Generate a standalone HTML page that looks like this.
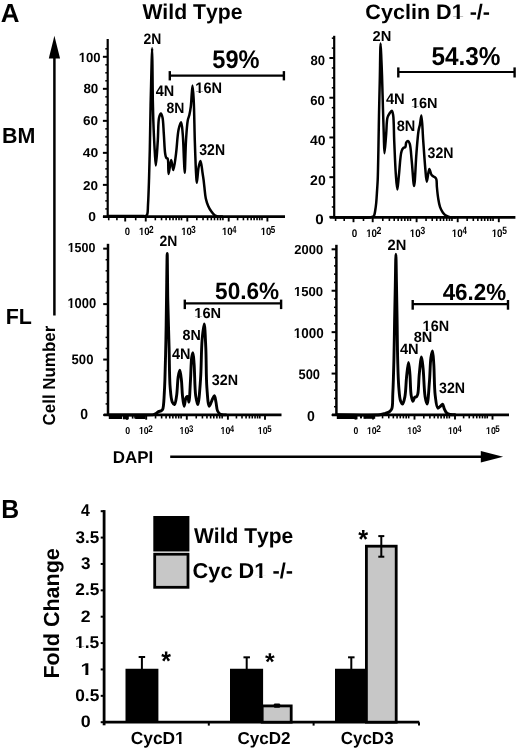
<!DOCTYPE html>
<html><head><meta charset="utf-8"><style>
html,body{margin:0;padding:0;background:#fff;}
body{width:520px;height:751px;overflow:hidden;}
svg{display:block;}
text{fill:#000;font-kerning:none;text-rendering:geometricPrecision;}
</style></head><body>
<svg width="520" height="751" viewBox="0 0 520 751" font-family='"Liberation Sans", sans-serif' font-weight="bold">
<rect width="520" height="751" fill="#fff"/>
<mask id="mall" maskUnits="userSpaceOnUse" x="0" y="0" width="520" height="751"><rect x="0" y="0" width="520" height="751" fill="#fff"/></mask>
<g mask="url(#mall)">
<line x1="107.70" y1="39.00" x2="107.70" y2="217.70" stroke="#000" stroke-width="2.2" stroke-linecap="butt"/>
<line x1="103.00" y1="216.70" x2="285.00" y2="216.70" stroke="#000" stroke-width="2.8" stroke-linecap="butt"/>
<line x1="102.90" y1="216.90" x2="107.70" y2="216.90" stroke="#000" stroke-width="2.0" stroke-linecap="butt"/>
<text x="88.35" y="220.80" font-size="12.94" textLength="7.72" lengthAdjust="spacingAndGlyphs">0</text>
<line x1="102.90" y1="184.88" x2="107.70" y2="184.88" stroke="#000" stroke-width="2.0" stroke-linecap="butt"/>
<text x="83.03" y="189.60" font-size="12.79" textLength="15.02" lengthAdjust="spacingAndGlyphs">20</text>
<line x1="102.90" y1="152.86" x2="107.70" y2="152.86" stroke="#000" stroke-width="2.0" stroke-linecap="butt"/>
<text x="82.79" y="157.30" font-size="12.79" textLength="15.48" lengthAdjust="spacingAndGlyphs">40</text>
<line x1="102.90" y1="120.84" x2="107.70" y2="120.84" stroke="#000" stroke-width="2.0" stroke-linecap="butt"/>
<text x="83.00" y="125.40" font-size="12.94" textLength="15.05" lengthAdjust="spacingAndGlyphs">60</text>
<line x1="102.90" y1="88.82" x2="107.70" y2="88.82" stroke="#000" stroke-width="2.0" stroke-linecap="butt"/>
<text x="83.38" y="92.70" font-size="13.37" textLength="14.87" lengthAdjust="spacingAndGlyphs">80</text>
<line x1="102.90" y1="56.80" x2="107.70" y2="56.80" stroke="#000" stroke-width="2.0" stroke-linecap="butt"/>
<mask id="m1" maskUnits="userSpaceOnUse" x="0" y="0" width="520" height="751"><rect x="0" y="0" width="520" height="751" fill="#fff"/><rect x="78.96" y="60.08" width="2.75" height="3.92" fill="#000"/><rect x="83.61" y="60.08" width="2.70" height="3.92" fill="#000"/></mask>
<text x="78.71" y="61.50" font-size="13.37" textLength="21.83" lengthAdjust="spacingAndGlyphs" mask="url(#m1)">100</text>
<line x1="105.30" y1="208.90" x2="107.70" y2="208.90" stroke="#000" stroke-width="1.5" stroke-linecap="butt"/>
<line x1="105.30" y1="200.89" x2="107.70" y2="200.89" stroke="#000" stroke-width="1.5" stroke-linecap="butt"/>
<line x1="105.30" y1="192.88" x2="107.70" y2="192.88" stroke="#000" stroke-width="1.5" stroke-linecap="butt"/>
<line x1="105.30" y1="176.88" x2="107.70" y2="176.88" stroke="#000" stroke-width="1.5" stroke-linecap="butt"/>
<line x1="105.30" y1="168.87" x2="107.70" y2="168.87" stroke="#000" stroke-width="1.5" stroke-linecap="butt"/>
<line x1="105.30" y1="160.87" x2="107.70" y2="160.87" stroke="#000" stroke-width="1.5" stroke-linecap="butt"/>
<line x1="105.30" y1="144.86" x2="107.70" y2="144.86" stroke="#000" stroke-width="1.5" stroke-linecap="butt"/>
<line x1="105.30" y1="136.85" x2="107.70" y2="136.85" stroke="#000" stroke-width="1.5" stroke-linecap="butt"/>
<line x1="105.30" y1="128.85" x2="107.70" y2="128.85" stroke="#000" stroke-width="1.5" stroke-linecap="butt"/>
<line x1="105.30" y1="112.84" x2="107.70" y2="112.84" stroke="#000" stroke-width="1.5" stroke-linecap="butt"/>
<line x1="105.30" y1="104.83" x2="107.70" y2="104.83" stroke="#000" stroke-width="1.5" stroke-linecap="butt"/>
<line x1="105.30" y1="96.83" x2="107.70" y2="96.83" stroke="#000" stroke-width="1.5" stroke-linecap="butt"/>
<line x1="105.30" y1="80.81" x2="107.70" y2="80.81" stroke="#000" stroke-width="1.5" stroke-linecap="butt"/>
<line x1="105.30" y1="72.81" x2="107.70" y2="72.81" stroke="#000" stroke-width="1.5" stroke-linecap="butt"/>
<line x1="105.30" y1="64.81" x2="107.70" y2="64.81" stroke="#000" stroke-width="1.5" stroke-linecap="butt"/>
<line x1="105.30" y1="48.80" x2="107.70" y2="48.80" stroke="#000" stroke-width="1.5" stroke-linecap="butt"/>
<line x1="125.20" y1="216.70" x2="125.20" y2="221.50" stroke="#000" stroke-width="1.9" stroke-linecap="butt"/>
<line x1="145.75" y1="216.70" x2="145.75" y2="221.50" stroke="#000" stroke-width="1.9" stroke-linecap="butt"/>
<line x1="187.30" y1="216.70" x2="187.30" y2="221.50" stroke="#000" stroke-width="1.9" stroke-linecap="butt"/>
<line x1="228.70" y1="216.70" x2="228.70" y2="221.50" stroke="#000" stroke-width="1.9" stroke-linecap="butt"/>
<line x1="267.40" y1="216.70" x2="267.40" y2="221.50" stroke="#000" stroke-width="1.9" stroke-linecap="butt"/>
<line x1="108.70" y1="216.70" x2="108.70" y2="220.30" stroke="#000" stroke-width="1.6" stroke-linecap="butt"/>
<line x1="116.90" y1="216.70" x2="116.90" y2="220.30" stroke="#000" stroke-width="1.6" stroke-linecap="butt"/>
<line x1="135.70" y1="216.70" x2="135.70" y2="220.30" stroke="#000" stroke-width="1.6" stroke-linecap="butt"/>
<line x1="155.31" y1="216.70" x2="155.31" y2="220.30" stroke="#000" stroke-width="1.6" stroke-linecap="butt"/>
<line x1="161.54" y1="216.70" x2="161.54" y2="220.30" stroke="#000" stroke-width="1.6" stroke-linecap="butt"/>
<line x1="166.11" y1="216.70" x2="166.11" y2="220.30" stroke="#000" stroke-width="1.6" stroke-linecap="butt"/>
<line x1="169.85" y1="216.70" x2="169.85" y2="220.30" stroke="#000" stroke-width="1.6" stroke-linecap="butt"/>
<line x1="173.05" y1="216.70" x2="173.05" y2="220.30" stroke="#000" stroke-width="1.6" stroke-linecap="butt"/>
<line x1="176.16" y1="216.70" x2="176.16" y2="220.30" stroke="#000" stroke-width="1.6" stroke-linecap="butt"/>
<line x1="178.99" y1="216.70" x2="178.99" y2="220.30" stroke="#000" stroke-width="1.6" stroke-linecap="butt"/>
<line x1="181.48" y1="216.70" x2="181.48" y2="220.30" stroke="#000" stroke-width="1.6" stroke-linecap="butt"/>
<line x1="196.82" y1="216.70" x2="196.82" y2="220.30" stroke="#000" stroke-width="1.6" stroke-linecap="butt"/>
<line x1="203.03" y1="216.70" x2="203.03" y2="220.30" stroke="#000" stroke-width="1.6" stroke-linecap="butt"/>
<line x1="207.59" y1="216.70" x2="207.59" y2="220.30" stroke="#000" stroke-width="1.6" stroke-linecap="butt"/>
<line x1="211.31" y1="216.70" x2="211.31" y2="220.30" stroke="#000" stroke-width="1.6" stroke-linecap="butt"/>
<line x1="214.50" y1="216.70" x2="214.50" y2="220.30" stroke="#000" stroke-width="1.6" stroke-linecap="butt"/>
<line x1="217.60" y1="216.70" x2="217.60" y2="220.30" stroke="#000" stroke-width="1.6" stroke-linecap="butt"/>
<line x1="220.42" y1="216.70" x2="220.42" y2="220.30" stroke="#000" stroke-width="1.6" stroke-linecap="butt"/>
<line x1="222.90" y1="216.70" x2="222.90" y2="220.30" stroke="#000" stroke-width="1.6" stroke-linecap="butt"/>
<line x1="237.60" y1="216.70" x2="237.60" y2="220.30" stroke="#000" stroke-width="1.6" stroke-linecap="butt"/>
<line x1="243.41" y1="216.70" x2="243.41" y2="220.30" stroke="#000" stroke-width="1.6" stroke-linecap="butt"/>
<line x1="247.66" y1="216.70" x2="247.66" y2="220.30" stroke="#000" stroke-width="1.6" stroke-linecap="butt"/>
<line x1="251.15" y1="216.70" x2="251.15" y2="220.30" stroke="#000" stroke-width="1.6" stroke-linecap="butt"/>
<line x1="254.13" y1="216.70" x2="254.13" y2="220.30" stroke="#000" stroke-width="1.6" stroke-linecap="butt"/>
<line x1="257.03" y1="216.70" x2="257.03" y2="220.30" stroke="#000" stroke-width="1.6" stroke-linecap="butt"/>
<line x1="259.66" y1="216.70" x2="259.66" y2="220.30" stroke="#000" stroke-width="1.6" stroke-linecap="butt"/>
<line x1="261.98" y1="216.70" x2="261.98" y2="220.30" stroke="#000" stroke-width="1.6" stroke-linecap="butt"/>
<text x="124.83" y="235.00" font-size="10.68" textLength="5.26" lengthAdjust="spacingAndGlyphs">0</text>
<mask id="m2" maskUnits="userSpaceOnUse" x="0" y="0" width="520" height="751"><rect x="0" y="0" width="520" height="751" fill="#fff"/><rect x="139.13" y="233.86" width="2.01" height="3.64" fill="#000"/><rect x="142.53" y="233.86" width="1.98" height="3.64" fill="#000"/></mask>
<text x="138.95" y="235.00" font-size="10.68" textLength="10.65" lengthAdjust="spacingAndGlyphs" mask="url(#m2)">10</text>
<text x="148.91" y="232.70" font-size="10.32" textLength="4.62" lengthAdjust="spacingAndGlyphs">2</text>
<mask id="m3" maskUnits="userSpaceOnUse" x="0" y="0" width="520" height="751"><rect x="0" y="0" width="520" height="751" fill="#fff"/><rect x="181.38" y="233.86" width="2.01" height="3.64" fill="#000"/><rect x="184.78" y="233.86" width="1.98" height="3.64" fill="#000"/></mask>
<text x="181.20" y="235.00" font-size="10.68" textLength="10.65" lengthAdjust="spacingAndGlyphs" mask="url(#m3)">10</text>
<text x="191.27" y="232.70" font-size="10.32" textLength="4.48" lengthAdjust="spacingAndGlyphs">3</text>
<mask id="m4" maskUnits="userSpaceOnUse" x="0" y="0" width="520" height="751"><rect x="0" y="0" width="520" height="751" fill="#fff"/><rect x="222.23" y="233.86" width="2.01" height="3.64" fill="#000"/><rect x="225.63" y="233.86" width="1.98" height="3.64" fill="#000"/></mask>
<text x="222.05" y="235.00" font-size="10.68" textLength="10.65" lengthAdjust="spacingAndGlyphs" mask="url(#m4)">10</text>
<text x="232.19" y="232.70" font-size="10.32" textLength="4.15" lengthAdjust="spacingAndGlyphs">4</text>
<mask id="m5" maskUnits="userSpaceOnUse" x="0" y="0" width="520" height="751"><rect x="0" y="0" width="520" height="751" fill="#fff"/><rect x="260.83" y="233.86" width="2.01" height="3.64" fill="#000"/><rect x="264.23" y="233.86" width="1.98" height="3.64" fill="#000"/></mask>
<text x="260.65" y="235.00" font-size="10.68" textLength="10.65" lengthAdjust="spacingAndGlyphs" mask="url(#m5)">10</text>
<text x="270.65" y="232.70" font-size="10.32" textLength="4.47" lengthAdjust="spacingAndGlyphs">5</text>
<path d="M108.00,216.00 C119.33,216.00 136.32,216.00 142.00,216.00 C143.90,216.00 144.90,216.39 145.80,216.00 C146.46,215.71 146.84,215.31 147.20,214.50 C147.97,212.76 147.76,208.92 148.00,205.00 C148.39,198.65 148.71,188.71 149.00,180.00 C149.32,170.46 149.56,161.01 149.80,150.00 C150.10,136.52 150.31,118.84 150.60,105.00 C150.85,93.15 151.13,82.09 151.40,72.00 C151.63,63.45 151.92,48.30 152.10,48.30 C152.28,48.30 152.39,63.77 152.50,72.00 C152.62,80.94 152.65,91.45 152.80,100.00 C152.93,107.23 153.10,113.81 153.30,120.00 C153.47,125.36 153.66,129.84 153.90,135.00 C154.16,140.49 154.44,146.66 154.80,152.00 C155.12,156.76 155.49,165.50 155.90,165.50 C156.46,165.50 157.26,148.58 157.80,140.40 C158.32,132.59 158.01,121.94 159.10,117.50 C159.58,115.56 160.33,113.49 160.90,113.50 C161.46,113.51 162.07,115.68 162.50,117.50 C163.33,121.03 163.37,127.93 163.80,133.60 C164.28,139.95 164.50,149.64 165.20,153.80 C165.52,155.71 165.69,157.18 166.30,157.90 C166.65,158.32 167.24,157.98 167.60,158.50 C168.77,160.21 167.98,173.96 168.60,174.00 C169.20,174.04 170.36,159.91 171.20,159.90 C171.92,159.89 172.59,170.01 173.30,170.00 C174.19,169.98 175.18,159.75 176.00,153.80 C176.99,146.55 177.35,135.30 178.60,129.60 C179.31,126.37 180.44,122.14 181.10,122.20 C181.90,122.27 182.27,128.98 182.70,133.60 C183.37,140.68 183.62,153.38 184.00,160.60 C184.26,165.43 184.45,172.70 184.70,172.70 C185.10,172.70 185.39,149.90 186.00,140.40 C186.49,132.87 186.93,124.76 187.80,120.20 C188.26,117.80 188.93,116.80 189.40,114.80 C189.96,112.39 190.38,110.05 190.80,106.70 C191.48,101.33 191.98,85.60 192.50,85.60 C192.93,85.60 193.37,93.98 193.70,100.00 C194.26,110.06 194.38,127.55 194.80,140.40 C195.19,152.12 195.65,166.42 196.10,174.00 C196.33,177.88 196.47,182.79 196.80,182.80 C197.23,182.81 197.81,171.32 198.60,167.30 C199.12,164.68 199.88,160.89 200.40,160.90 C200.86,160.91 201.25,164.14 201.60,166.00 C202.01,168.21 202.26,170.92 202.60,173.30 C202.93,175.58 203.30,177.72 203.60,180.00 C203.91,182.35 204.09,184.54 204.40,187.20 C204.79,190.52 205.07,195.07 205.80,198.40 C206.41,201.18 207.20,203.63 208.20,205.90 C209.10,207.95 210.23,209.88 211.40,211.50 C212.42,212.92 213.49,214.38 214.70,215.20 C215.72,215.89 216.83,216.16 218.00,216.40 C219.25,216.65 220.67,216.53 222.00,216.60" fill="none" stroke="#000" stroke-width="2.5" stroke-linejoin="round" stroke-linecap="round"/>
<text x="143.42" y="43.70" font-size="15.12" textLength="17.82" lengthAdjust="spacingAndGlyphs">2N</text>
<text x="155.78" y="95.60" font-size="15.12" textLength="18.49" lengthAdjust="spacingAndGlyphs">4N</text>
<text x="166.46" y="112.80" font-size="14.97" textLength="17.89" lengthAdjust="spacingAndGlyphs">8N</text>
<mask id="m6" maskUnits="userSpaceOnUse" x="0" y="0" width="520" height="751"><rect x="0" y="0" width="520" height="751" fill="#fff"/><rect x="195.59" y="91.69" width="3.07" height="4.11" fill="#000"/><rect x="200.77" y="91.69" width="3.02" height="4.11" fill="#000"/></mask>
<text x="195.30" y="93.30" font-size="15.12" textLength="26.78" lengthAdjust="spacingAndGlyphs" mask="url(#m6)">16N</text>
<text x="199.28" y="154.70" font-size="15.70" textLength="25.77" lengthAdjust="spacingAndGlyphs">32N</text>
<text x="212.27" y="68.30" font-size="25.58" textLength="47.25" lengthAdjust="spacingAndGlyphs">59%</text>
<line x1="169.80" y1="75.70" x2="283.90" y2="75.70" stroke="#000" stroke-width="2.2" stroke-linecap="butt"/>
<line x1="169.80" y1="71.10" x2="169.80" y2="80.40" stroke="#000" stroke-width="2.4" stroke-linecap="butt"/>
<line x1="283.90" y1="71.10" x2="283.90" y2="80.40" stroke="#000" stroke-width="2.4" stroke-linecap="butt"/>
<line x1="334.20" y1="35.80" x2="334.20" y2="218.40" stroke="#000" stroke-width="2.2" stroke-linecap="butt"/>
<line x1="329.80" y1="217.40" x2="515.40" y2="217.40" stroke="#000" stroke-width="2.7" stroke-linecap="butt"/>
<line x1="329.40" y1="216.90" x2="334.20" y2="216.90" stroke="#000" stroke-width="2.0" stroke-linecap="butt"/>
<text x="315.30" y="223.70" font-size="14.10" textLength="8.42" lengthAdjust="spacingAndGlyphs">0</text>
<line x1="329.40" y1="177.18" x2="334.20" y2="177.18" stroke="#000" stroke-width="2.0" stroke-linecap="butt"/>
<text x="310.12" y="184.70" font-size="13.95" textLength="15.56" lengthAdjust="spacingAndGlyphs">20</text>
<line x1="329.40" y1="137.46" x2="334.20" y2="137.46" stroke="#000" stroke-width="2.0" stroke-linecap="butt"/>
<text x="309.99" y="144.55" font-size="13.74" textLength="15.59" lengthAdjust="spacingAndGlyphs">40</text>
<line x1="329.40" y1="97.74" x2="334.20" y2="97.74" stroke="#000" stroke-width="2.0" stroke-linecap="butt"/>
<text x="310.32" y="105.00" font-size="13.37" textLength="14.62" lengthAdjust="spacingAndGlyphs">60</text>
<line x1="329.40" y1="58.02" x2="334.20" y2="58.02" stroke="#000" stroke-width="2.0" stroke-linecap="butt"/>
<text x="310.38" y="65.10" font-size="13.52" textLength="14.55" lengthAdjust="spacingAndGlyphs">80</text>
<line x1="331.80" y1="206.97" x2="334.20" y2="206.97" stroke="#000" stroke-width="1.5" stroke-linecap="butt"/>
<line x1="331.80" y1="197.04" x2="334.20" y2="197.04" stroke="#000" stroke-width="1.5" stroke-linecap="butt"/>
<line x1="331.80" y1="187.11" x2="334.20" y2="187.11" stroke="#000" stroke-width="1.5" stroke-linecap="butt"/>
<line x1="331.80" y1="167.25" x2="334.20" y2="167.25" stroke="#000" stroke-width="1.5" stroke-linecap="butt"/>
<line x1="331.80" y1="157.32" x2="334.20" y2="157.32" stroke="#000" stroke-width="1.5" stroke-linecap="butt"/>
<line x1="331.80" y1="147.39" x2="334.20" y2="147.39" stroke="#000" stroke-width="1.5" stroke-linecap="butt"/>
<line x1="331.80" y1="127.53" x2="334.20" y2="127.53" stroke="#000" stroke-width="1.5" stroke-linecap="butt"/>
<line x1="331.80" y1="117.60" x2="334.20" y2="117.60" stroke="#000" stroke-width="1.5" stroke-linecap="butt"/>
<line x1="331.80" y1="107.67" x2="334.20" y2="107.67" stroke="#000" stroke-width="1.5" stroke-linecap="butt"/>
<line x1="331.80" y1="87.81" x2="334.20" y2="87.81" stroke="#000" stroke-width="1.5" stroke-linecap="butt"/>
<line x1="331.80" y1="77.88" x2="334.20" y2="77.88" stroke="#000" stroke-width="1.5" stroke-linecap="butt"/>
<line x1="331.80" y1="67.95" x2="334.20" y2="67.95" stroke="#000" stroke-width="1.5" stroke-linecap="butt"/>
<line x1="331.80" y1="48.09" x2="334.20" y2="48.09" stroke="#000" stroke-width="1.5" stroke-linecap="butt"/>
<line x1="331.80" y1="38.16" x2="334.20" y2="38.16" stroke="#000" stroke-width="1.5" stroke-linecap="butt"/>
<line x1="353.50" y1="217.40" x2="353.50" y2="222.20" stroke="#000" stroke-width="1.9" stroke-linecap="butt"/>
<line x1="372.70" y1="217.40" x2="372.70" y2="222.20" stroke="#000" stroke-width="1.9" stroke-linecap="butt"/>
<line x1="416.60" y1="217.40" x2="416.60" y2="222.20" stroke="#000" stroke-width="1.9" stroke-linecap="butt"/>
<line x1="457.70" y1="217.40" x2="457.70" y2="222.20" stroke="#000" stroke-width="1.9" stroke-linecap="butt"/>
<line x1="498.80" y1="217.40" x2="498.80" y2="222.20" stroke="#000" stroke-width="1.9" stroke-linecap="butt"/>
<line x1="335.60" y1="217.40" x2="335.60" y2="221.00" stroke="#000" stroke-width="1.6" stroke-linecap="butt"/>
<line x1="344.20" y1="217.40" x2="344.20" y2="221.00" stroke="#000" stroke-width="1.6" stroke-linecap="butt"/>
<line x1="363.50" y1="217.40" x2="363.50" y2="221.00" stroke="#000" stroke-width="1.6" stroke-linecap="butt"/>
<line x1="382.80" y1="217.40" x2="382.80" y2="221.00" stroke="#000" stroke-width="1.6" stroke-linecap="butt"/>
<line x1="389.38" y1="217.40" x2="389.38" y2="221.00" stroke="#000" stroke-width="1.6" stroke-linecap="butt"/>
<line x1="394.21" y1="217.40" x2="394.21" y2="221.00" stroke="#000" stroke-width="1.6" stroke-linecap="butt"/>
<line x1="398.16" y1="217.40" x2="398.16" y2="221.00" stroke="#000" stroke-width="1.6" stroke-linecap="butt"/>
<line x1="401.54" y1="217.40" x2="401.54" y2="221.00" stroke="#000" stroke-width="1.6" stroke-linecap="butt"/>
<line x1="404.83" y1="217.40" x2="404.83" y2="221.00" stroke="#000" stroke-width="1.6" stroke-linecap="butt"/>
<line x1="407.82" y1="217.40" x2="407.82" y2="221.00" stroke="#000" stroke-width="1.6" stroke-linecap="butt"/>
<line x1="410.45" y1="217.40" x2="410.45" y2="221.00" stroke="#000" stroke-width="1.6" stroke-linecap="butt"/>
<line x1="426.05" y1="217.40" x2="426.05" y2="221.00" stroke="#000" stroke-width="1.6" stroke-linecap="butt"/>
<line x1="432.22" y1="217.40" x2="432.22" y2="221.00" stroke="#000" stroke-width="1.6" stroke-linecap="butt"/>
<line x1="436.74" y1="217.40" x2="436.74" y2="221.00" stroke="#000" stroke-width="1.6" stroke-linecap="butt"/>
<line x1="440.44" y1="217.40" x2="440.44" y2="221.00" stroke="#000" stroke-width="1.6" stroke-linecap="butt"/>
<line x1="443.60" y1="217.40" x2="443.60" y2="221.00" stroke="#000" stroke-width="1.6" stroke-linecap="butt"/>
<line x1="446.69" y1="217.40" x2="446.69" y2="221.00" stroke="#000" stroke-width="1.6" stroke-linecap="butt"/>
<line x1="449.48" y1="217.40" x2="449.48" y2="221.00" stroke="#000" stroke-width="1.6" stroke-linecap="butt"/>
<line x1="451.95" y1="217.40" x2="451.95" y2="221.00" stroke="#000" stroke-width="1.6" stroke-linecap="butt"/>
<line x1="467.15" y1="217.40" x2="467.15" y2="221.00" stroke="#000" stroke-width="1.6" stroke-linecap="butt"/>
<line x1="473.32" y1="217.40" x2="473.32" y2="221.00" stroke="#000" stroke-width="1.6" stroke-linecap="butt"/>
<line x1="477.84" y1="217.40" x2="477.84" y2="221.00" stroke="#000" stroke-width="1.6" stroke-linecap="butt"/>
<line x1="481.54" y1="217.40" x2="481.54" y2="221.00" stroke="#000" stroke-width="1.6" stroke-linecap="butt"/>
<line x1="484.70" y1="217.40" x2="484.70" y2="221.00" stroke="#000" stroke-width="1.6" stroke-linecap="butt"/>
<line x1="487.79" y1="217.40" x2="487.79" y2="221.00" stroke="#000" stroke-width="1.6" stroke-linecap="butt"/>
<line x1="490.58" y1="217.40" x2="490.58" y2="221.00" stroke="#000" stroke-width="1.6" stroke-linecap="butt"/>
<line x1="493.05" y1="217.40" x2="493.05" y2="221.00" stroke="#000" stroke-width="1.6" stroke-linecap="butt"/>
<text x="351.81" y="236.70" font-size="11.05" textLength="5.50" lengthAdjust="spacingAndGlyphs">0</text>
<mask id="m7" maskUnits="userSpaceOnUse" x="0" y="0" width="520" height="751"><rect x="0" y="0" width="520" height="751" fill="#fff"/><rect x="366.32" y="235.52" width="2.05" height="3.68" fill="#000"/><rect x="369.79" y="235.52" width="2.02" height="3.68" fill="#000"/></mask>
<text x="366.13" y="236.70" font-size="11.05" textLength="10.87" lengthAdjust="spacingAndGlyphs" mask="url(#m7)">10</text>
<text x="376.60" y="234.40" font-size="10.47" textLength="4.85" lengthAdjust="spacingAndGlyphs">2</text>
<mask id="m8" maskUnits="userSpaceOnUse" x="0" y="0" width="520" height="751"><rect x="0" y="0" width="520" height="751" fill="#fff"/><rect x="410.02" y="235.52" width="2.05" height="3.68" fill="#000"/><rect x="413.49" y="235.52" width="2.02" height="3.68" fill="#000"/></mask>
<text x="409.83" y="236.70" font-size="11.05" textLength="10.87" lengthAdjust="spacingAndGlyphs" mask="url(#m8)">10</text>
<text x="420.41" y="234.40" font-size="10.47" textLength="4.70" lengthAdjust="spacingAndGlyphs">3</text>
<mask id="m9" maskUnits="userSpaceOnUse" x="0" y="0" width="520" height="751"><rect x="0" y="0" width="520" height="751" fill="#fff"/><rect x="452.02" y="235.52" width="2.05" height="3.68" fill="#000"/><rect x="455.49" y="235.52" width="2.02" height="3.68" fill="#000"/></mask>
<text x="451.83" y="236.70" font-size="11.05" textLength="10.87" lengthAdjust="spacingAndGlyphs" mask="url(#m9)">10</text>
<text x="462.48" y="234.40" font-size="10.47" textLength="4.36" lengthAdjust="spacingAndGlyphs">4</text>
<mask id="m10" maskUnits="userSpaceOnUse" x="0" y="0" width="520" height="751"><rect x="0" y="0" width="520" height="751" fill="#fff"/><rect x="491.82" y="235.52" width="2.05" height="3.68" fill="#000"/><rect x="495.29" y="235.52" width="2.02" height="3.68" fill="#000"/></mask>
<text x="491.63" y="236.70" font-size="11.05" textLength="10.87" lengthAdjust="spacingAndGlyphs" mask="url(#m10)">10</text>
<text x="502.14" y="234.40" font-size="10.47" textLength="4.69" lengthAdjust="spacingAndGlyphs">5</text>
<path d="M336.00,217.40 C347.33,217.40 364.70,218.05 370.00,217.40 C371.65,217.20 372.47,217.11 373.20,216.60 C373.76,216.21 373.99,215.72 374.30,215.00 C374.79,213.83 375.00,211.81 375.30,210.00 C375.65,207.87 375.93,205.70 376.20,203.00 C376.56,199.34 376.84,194.05 377.10,190.00 C377.33,186.45 377.52,184.23 377.70,180.00 C378.00,172.68 378.19,160.39 378.40,150.00 C378.63,138.78 378.77,126.67 379.00,115.00 C379.23,103.33 379.54,91.78 379.80,80.00 C380.07,67.99 380.26,43.60 380.60,43.60 C380.83,43.60 381.16,54.65 381.40,60.00 C381.63,65.11 381.79,68.96 382.00,75.00 C382.32,84.23 382.68,99.31 383.00,110.00 C383.27,119.03 383.53,127.33 383.80,135.00 C384.03,141.55 384.11,153.19 384.50,153.20 C384.90,153.21 385.68,139.81 386.20,133.60 C386.67,127.97 386.52,121.01 387.50,117.50 C388.02,115.65 388.73,114.66 389.50,113.50 C390.19,112.46 391.21,110.68 391.80,110.80 C392.44,110.93 392.75,112.85 393.10,114.80 C393.97,119.60 393.79,131.29 394.20,140.40 C394.67,150.84 395.15,164.95 395.80,174.00 C396.24,180.16 396.77,189.50 397.30,189.50 C397.81,189.50 398.30,180.74 398.90,175.40 C399.69,168.40 400.14,155.38 401.60,151.10 C402.18,149.40 402.84,148.45 403.60,147.80 C404.12,147.35 404.87,147.61 405.30,147.10 C405.99,146.27 405.67,143.44 406.30,142.40 C406.73,141.69 407.48,140.92 408.00,141.00 C408.63,141.10 409.22,142.33 409.70,143.70 C410.81,146.85 411.04,154.39 411.70,160.60 C412.51,168.22 413.36,186.11 414.10,186.10 C414.94,186.09 415.60,163.63 416.40,153.80 C417.07,145.54 417.67,136.35 418.50,131.00 C418.96,128.05 419.54,126.61 420.00,124.20 C420.52,121.49 420.97,115.48 421.40,115.50 C422.12,115.53 422.58,131.94 423.20,140.40 C423.84,149.19 424.50,159.73 425.20,167.30 C425.71,172.85 426.09,181.67 426.80,181.70 C427.47,181.73 428.32,169.18 429.30,169.10 C429.99,169.04 430.66,173.87 431.60,175.10 C432.17,175.85 432.87,176.07 433.50,176.50 C434.10,176.90 434.82,177.11 435.30,177.60 C435.79,178.10 436.13,178.61 436.40,179.50 C436.90,181.14 436.65,184.24 436.90,187.00 C437.21,190.41 437.63,194.90 438.20,198.40 C438.70,201.43 439.13,204.33 440.00,206.80 C440.74,208.91 441.69,210.86 442.80,212.40 C443.74,213.71 444.78,214.81 446.00,215.60 C447.19,216.36 448.57,216.80 450.00,217.10 C451.55,217.43 453.33,217.30 455.00,217.40" fill="none" stroke="#000" stroke-width="2.5" stroke-linejoin="round" stroke-linecap="round"/>
<text x="372.49" y="41.10" font-size="14.39" textLength="18.80" lengthAdjust="spacingAndGlyphs">2N</text>
<text x="385.88" y="103.75" font-size="15.33" textLength="18.81" lengthAdjust="spacingAndGlyphs">4N</text>
<text x="396.64" y="131.30" font-size="15.12" textLength="18.65" lengthAdjust="spacingAndGlyphs">8N</text>
<mask id="m11" maskUnits="userSpaceOnUse" x="0" y="0" width="520" height="751"><rect x="0" y="0" width="520" height="751" fill="#fff"/><rect x="411.29" y="106.64" width="3.04" height="4.06" fill="#000"/><rect x="416.43" y="106.64" width="2.99" height="4.06" fill="#000"/></mask>
<text x="411.01" y="108.20" font-size="14.68" textLength="26.57" lengthAdjust="spacingAndGlyphs" mask="url(#m11)">16N</text>
<text x="427.57" y="158.10" font-size="15.26" textLength="25.98" lengthAdjust="spacingAndGlyphs">32N</text>
<text x="431.45" y="64.60" font-size="25.87" textLength="69.09" lengthAdjust="spacingAndGlyphs">54.3%</text>
<line x1="398.30" y1="72.00" x2="514.60" y2="72.00" stroke="#000" stroke-width="2.2" stroke-linecap="butt"/>
<line x1="398.30" y1="67.40" x2="398.30" y2="77.50" stroke="#000" stroke-width="2.4" stroke-linecap="butt"/>
<line x1="514.60" y1="67.40" x2="514.60" y2="77.50" stroke="#000" stroke-width="2.4" stroke-linecap="butt"/>
<line x1="108.00" y1="243.80" x2="108.00" y2="415.90" stroke="#000" stroke-width="2.5" stroke-linecap="butt"/>
<line x1="103.80" y1="414.90" x2="281.50" y2="414.90" stroke="#000" stroke-width="2.8" stroke-linecap="butt"/>
<line x1="103.20" y1="415.00" x2="108.00" y2="415.00" stroke="#000" stroke-width="2.0" stroke-linecap="butt"/>
<text x="80.30" y="419.10" font-size="14.83" textLength="7.78" lengthAdjust="spacingAndGlyphs">0</text>
<line x1="103.20" y1="359.55" x2="108.00" y2="359.55" stroke="#000" stroke-width="2.0" stroke-linecap="butt"/>
<text x="71.60" y="363.70" font-size="13.74" textLength="21.84" lengthAdjust="spacingAndGlyphs">500</text>
<line x1="103.20" y1="304.10" x2="108.00" y2="304.10" stroke="#000" stroke-width="2.0" stroke-linecap="butt"/>
<mask id="m12" maskUnits="userSpaceOnUse" x="0" y="0" width="520" height="751"><rect x="0" y="0" width="520" height="751" fill="#fff"/><rect x="67.67" y="306.18" width="2.72" height="4.02" fill="#000"/><rect x="72.27" y="306.18" width="2.68" height="4.02" fill="#000"/></mask>
<text x="67.41" y="307.70" font-size="14.24" textLength="28.82" lengthAdjust="spacingAndGlyphs" mask="url(#m12)">1000</text>
<line x1="103.20" y1="248.65" x2="108.00" y2="248.65" stroke="#000" stroke-width="2.0" stroke-linecap="butt"/>
<mask id="m13" maskUnits="userSpaceOnUse" x="0" y="0" width="520" height="751"><rect x="0" y="0" width="520" height="751" fill="#fff"/><rect x="67.89" y="250.41" width="2.62" height="3.89" fill="#000"/><rect x="72.32" y="250.41" width="2.58" height="3.89" fill="#000"/></mask>
<text x="67.65" y="251.80" font-size="13.08" textLength="27.77" lengthAdjust="spacingAndGlyphs" mask="url(#m13)">1500</text>
<line x1="105.60" y1="403.91" x2="108.00" y2="403.91" stroke="#000" stroke-width="1.5" stroke-linecap="butt"/>
<line x1="105.60" y1="392.82" x2="108.00" y2="392.82" stroke="#000" stroke-width="1.5" stroke-linecap="butt"/>
<line x1="105.60" y1="381.73" x2="108.00" y2="381.73" stroke="#000" stroke-width="1.5" stroke-linecap="butt"/>
<line x1="105.60" y1="370.64" x2="108.00" y2="370.64" stroke="#000" stroke-width="1.5" stroke-linecap="butt"/>
<line x1="105.60" y1="348.46" x2="108.00" y2="348.46" stroke="#000" stroke-width="1.5" stroke-linecap="butt"/>
<line x1="105.60" y1="337.37" x2="108.00" y2="337.37" stroke="#000" stroke-width="1.5" stroke-linecap="butt"/>
<line x1="105.60" y1="326.28" x2="108.00" y2="326.28" stroke="#000" stroke-width="1.5" stroke-linecap="butt"/>
<line x1="105.60" y1="315.19" x2="108.00" y2="315.19" stroke="#000" stroke-width="1.5" stroke-linecap="butt"/>
<line x1="105.60" y1="293.01" x2="108.00" y2="293.01" stroke="#000" stroke-width="1.5" stroke-linecap="butt"/>
<line x1="105.60" y1="281.92" x2="108.00" y2="281.92" stroke="#000" stroke-width="1.5" stroke-linecap="butt"/>
<line x1="105.60" y1="270.83" x2="108.00" y2="270.83" stroke="#000" stroke-width="1.5" stroke-linecap="butt"/>
<line x1="105.60" y1="259.74" x2="108.00" y2="259.74" stroke="#000" stroke-width="1.5" stroke-linecap="butt"/>
<line x1="127.00" y1="414.90" x2="127.00" y2="419.70" stroke="#000" stroke-width="1.9" stroke-linecap="butt"/>
<line x1="146.20" y1="414.90" x2="146.20" y2="419.70" stroke="#000" stroke-width="1.9" stroke-linecap="butt"/>
<line x1="186.80" y1="414.90" x2="186.80" y2="419.70" stroke="#000" stroke-width="1.9" stroke-linecap="butt"/>
<line x1="227.90" y1="414.90" x2="227.90" y2="419.70" stroke="#000" stroke-width="1.9" stroke-linecap="butt"/>
<line x1="265.00" y1="414.90" x2="265.00" y2="419.70" stroke="#000" stroke-width="1.9" stroke-linecap="butt"/>
<line x1="112.00" y1="414.90" x2="112.00" y2="418.50" stroke="#000" stroke-width="1.6" stroke-linecap="butt"/>
<line x1="119.00" y1="414.90" x2="119.00" y2="418.50" stroke="#000" stroke-width="1.6" stroke-linecap="butt"/>
<line x1="135.00" y1="414.90" x2="135.00" y2="418.50" stroke="#000" stroke-width="1.6" stroke-linecap="butt"/>
<line x1="155.54" y1="414.90" x2="155.54" y2="418.50" stroke="#000" stroke-width="1.6" stroke-linecap="butt"/>
<line x1="161.63" y1="414.90" x2="161.63" y2="418.50" stroke="#000" stroke-width="1.6" stroke-linecap="butt"/>
<line x1="166.09" y1="414.90" x2="166.09" y2="418.50" stroke="#000" stroke-width="1.6" stroke-linecap="butt"/>
<line x1="169.75" y1="414.90" x2="169.75" y2="418.50" stroke="#000" stroke-width="1.6" stroke-linecap="butt"/>
<line x1="172.87" y1="414.90" x2="172.87" y2="418.50" stroke="#000" stroke-width="1.6" stroke-linecap="butt"/>
<line x1="175.92" y1="414.90" x2="175.92" y2="418.50" stroke="#000" stroke-width="1.6" stroke-linecap="butt"/>
<line x1="178.68" y1="414.90" x2="178.68" y2="418.50" stroke="#000" stroke-width="1.6" stroke-linecap="butt"/>
<line x1="181.12" y1="414.90" x2="181.12" y2="418.50" stroke="#000" stroke-width="1.6" stroke-linecap="butt"/>
<line x1="196.25" y1="414.90" x2="196.25" y2="418.50" stroke="#000" stroke-width="1.6" stroke-linecap="butt"/>
<line x1="202.42" y1="414.90" x2="202.42" y2="418.50" stroke="#000" stroke-width="1.6" stroke-linecap="butt"/>
<line x1="206.94" y1="414.90" x2="206.94" y2="418.50" stroke="#000" stroke-width="1.6" stroke-linecap="butt"/>
<line x1="210.64" y1="414.90" x2="210.64" y2="418.50" stroke="#000" stroke-width="1.6" stroke-linecap="butt"/>
<line x1="213.80" y1="414.90" x2="213.80" y2="418.50" stroke="#000" stroke-width="1.6" stroke-linecap="butt"/>
<line x1="216.89" y1="414.90" x2="216.89" y2="418.50" stroke="#000" stroke-width="1.6" stroke-linecap="butt"/>
<line x1="219.68" y1="414.90" x2="219.68" y2="418.50" stroke="#000" stroke-width="1.6" stroke-linecap="butt"/>
<line x1="222.15" y1="414.90" x2="222.15" y2="418.50" stroke="#000" stroke-width="1.6" stroke-linecap="butt"/>
<line x1="236.43" y1="414.90" x2="236.43" y2="418.50" stroke="#000" stroke-width="1.6" stroke-linecap="butt"/>
<line x1="242.00" y1="414.90" x2="242.00" y2="418.50" stroke="#000" stroke-width="1.6" stroke-linecap="butt"/>
<line x1="246.08" y1="414.90" x2="246.08" y2="418.50" stroke="#000" stroke-width="1.6" stroke-linecap="butt"/>
<line x1="249.42" y1="414.90" x2="249.42" y2="418.50" stroke="#000" stroke-width="1.6" stroke-linecap="butt"/>
<line x1="252.27" y1="414.90" x2="252.27" y2="418.50" stroke="#000" stroke-width="1.6" stroke-linecap="butt"/>
<line x1="255.06" y1="414.90" x2="255.06" y2="418.50" stroke="#000" stroke-width="1.6" stroke-linecap="butt"/>
<line x1="257.58" y1="414.90" x2="257.58" y2="418.50" stroke="#000" stroke-width="1.6" stroke-linecap="butt"/>
<line x1="259.81" y1="414.90" x2="259.81" y2="418.50" stroke="#000" stroke-width="1.6" stroke-linecap="butt"/>
<text x="125.15" y="433.60" font-size="10.03" textLength="4.91" lengthAdjust="spacingAndGlyphs">0</text>
<mask id="m14" maskUnits="userSpaceOnUse" x="0" y="0" width="520" height="751"><rect x="0" y="0" width="520" height="751" fill="#fff"/><rect x="139.07" y="432.53" width="1.84" height="3.57" fill="#000"/><rect x="142.19" y="432.53" width="1.81" height="3.57" fill="#000"/></mask>
<text x="138.90" y="433.60" font-size="10.03" textLength="9.76" lengthAdjust="spacingAndGlyphs" mask="url(#m14)">10</text>
<text x="148.22" y="431.60" font-size="9.59" textLength="4.51" lengthAdjust="spacingAndGlyphs">2</text>
<mask id="m15" maskUnits="userSpaceOnUse" x="0" y="0" width="520" height="751"><rect x="0" y="0" width="520" height="751" fill="#fff"/><rect x="179.67" y="432.53" width="1.84" height="3.57" fill="#000"/><rect x="182.79" y="432.53" width="1.81" height="3.57" fill="#000"/></mask>
<text x="179.50" y="433.60" font-size="10.03" textLength="9.76" lengthAdjust="spacingAndGlyphs" mask="url(#m15)">10</text>
<text x="188.92" y="431.60" font-size="9.59" textLength="4.36" lengthAdjust="spacingAndGlyphs">3</text>
<mask id="m16" maskUnits="userSpaceOnUse" x="0" y="0" width="520" height="751"><rect x="0" y="0" width="520" height="751" fill="#fff"/><rect x="220.67" y="432.53" width="1.84" height="3.57" fill="#000"/><rect x="223.79" y="432.53" width="1.81" height="3.57" fill="#000"/></mask>
<text x="220.50" y="433.60" font-size="10.03" textLength="9.76" lengthAdjust="spacingAndGlyphs" mask="url(#m16)">10</text>
<text x="229.99" y="431.60" font-size="9.59" textLength="4.05" lengthAdjust="spacingAndGlyphs">4</text>
<mask id="m17" maskUnits="userSpaceOnUse" x="0" y="0" width="520" height="751"><rect x="0" y="0" width="520" height="751" fill="#fff"/><rect x="257.97" y="432.53" width="1.84" height="3.57" fill="#000"/><rect x="261.09" y="432.53" width="1.81" height="3.57" fill="#000"/></mask>
<text x="257.80" y="433.60" font-size="10.03" textLength="9.76" lengthAdjust="spacingAndGlyphs" mask="url(#m17)">10</text>
<text x="267.16" y="431.60" font-size="9.59" textLength="4.36" lengthAdjust="spacingAndGlyphs">5</text>
<rect x="108.80" y="415.80" width="13.40" height="3.20" fill="#000"/>
<rect x="123.00" y="415.80" width="5.80" height="3.50" fill="#000"/>
<rect x="131.80" y="415.80" width="1.70" height="2.80" fill="#000"/>
<rect x="135.20" y="415.80" width="10.30" height="3.20" fill="#000"/>
<path d="M109.00,414.90 C123.00,414.90 145.51,415.23 151.00,414.90 C152.34,414.82 152.68,414.81 153.50,414.60 C154.35,414.38 155.20,414.07 156.00,413.60 C156.87,413.09 157.62,412.05 158.50,411.60 C159.29,411.19 160.29,411.28 161.00,410.90 C161.64,410.55 162.20,410.19 162.60,409.50 C163.19,408.48 163.26,406.80 163.50,405.00 C163.86,402.33 163.99,398.68 164.20,395.00 C164.46,390.48 164.68,386.13 164.90,379.90 C165.26,369.77 165.63,353.31 165.90,340.00 C166.17,326.68 166.29,313.84 166.50,300.00 C166.72,285.06 166.98,253.40 167.20,253.40 C167.42,253.40 167.53,286.17 167.80,300.00 C168.02,311.10 168.36,321.28 168.60,330.00 C168.78,336.73 168.90,340.75 169.10,347.90 C169.40,358.59 169.33,377.94 170.20,387.90 C170.72,393.89 171.03,399.52 172.30,402.20 C172.90,403.47 173.88,404.76 174.50,404.60 C175.53,404.33 176.04,399.32 176.60,395.80 C177.42,390.68 177.43,381.35 178.20,376.70 C178.65,373.97 179.31,370.28 179.80,370.30 C180.40,370.32 180.97,376.29 181.40,379.90 C181.94,384.52 181.97,391.07 182.50,395.80 C182.93,399.64 183.45,406.17 184.10,406.20 C184.70,406.22 185.18,398.72 186.20,397.40 C186.64,396.83 187.30,396.41 187.70,396.60 C188.44,396.94 188.54,402.22 188.90,402.20 C189.60,402.15 190.03,387.34 190.50,379.90 C190.97,372.44 190.99,362.20 191.70,357.50 C192.03,355.29 192.55,352.68 192.90,352.70 C193.42,352.74 193.73,359.20 194.10,363.90 C194.72,371.81 194.66,388.51 195.70,395.80 C196.26,399.68 197.16,404.64 197.80,404.60 C198.86,404.53 199.81,389.13 200.50,379.90 C201.37,368.20 201.22,350.30 202.10,340.00 C202.66,333.45 203.62,323.98 204.20,324.00 C204.91,324.02 205.38,338.91 205.80,347.90 C206.35,359.52 206.05,377.16 206.90,387.90 C207.48,395.20 208.00,406.01 209.30,406.20 C210.15,406.32 211.52,400.90 212.50,399.00 C213.17,397.70 213.87,395.72 214.40,395.80 C215.11,395.90 215.50,399.89 216.00,402.20 C216.58,404.89 216.58,408.85 217.60,411.00 C218.32,412.52 219.21,413.73 220.50,414.40 C221.93,415.14 224.17,414.73 226.00,414.90" fill="none" stroke="#000" stroke-width="2.9" stroke-linejoin="round" stroke-linecap="round"/>
<text x="159.42" y="245.55" font-size="14.90" textLength="17.82" lengthAdjust="spacingAndGlyphs">2N</text>
<text x="171.88" y="358.60" font-size="15.12" textLength="18.49" lengthAdjust="spacingAndGlyphs">4N</text>
<text x="182.45" y="339.80" font-size="14.68" textLength="18.27" lengthAdjust="spacingAndGlyphs">8N</text>
<mask id="m18" maskUnits="userSpaceOnUse" x="0" y="0" width="520" height="751"><rect x="0" y="0" width="520" height="751" fill="#fff"/><rect x="194.59" y="316.54" width="3.07" height="4.06" fill="#000"/><rect x="199.77" y="316.54" width="3.02" height="4.06" fill="#000"/></mask>
<text x="194.30" y="318.10" font-size="14.68" textLength="26.78" lengthAdjust="spacingAndGlyphs" mask="url(#m18)">16N</text>
<text x="211.87" y="385.10" font-size="15.04" textLength="26.29" lengthAdjust="spacingAndGlyphs">32N</text>
<text x="215.10" y="298.90" font-size="23.55" textLength="64.09" lengthAdjust="spacingAndGlyphs">50.6%</text>
<line x1="184.80" y1="303.40" x2="281.10" y2="303.40" stroke="#000" stroke-width="2.2" stroke-linecap="butt"/>
<line x1="184.80" y1="299.60" x2="184.80" y2="309.10" stroke="#000" stroke-width="2.4" stroke-linecap="butt"/>
<line x1="281.10" y1="299.60" x2="281.10" y2="309.10" stroke="#000" stroke-width="2.4" stroke-linecap="butt"/>
<line x1="336.40" y1="244.80" x2="336.40" y2="415.80" stroke="#000" stroke-width="2.5" stroke-linecap="butt"/>
<line x1="332.00" y1="414.80" x2="509.00" y2="414.80" stroke="#000" stroke-width="2.8" stroke-linecap="butt"/>
<line x1="331.60" y1="415.00" x2="336.40" y2="415.00" stroke="#000" stroke-width="2.0" stroke-linecap="butt"/>
<text x="307.04" y="421.00" font-size="14.39" textLength="7.84" lengthAdjust="spacingAndGlyphs">0</text>
<line x1="331.60" y1="373.57" x2="336.40" y2="373.57" stroke="#000" stroke-width="2.0" stroke-linecap="butt"/>
<text x="298.50" y="379.40" font-size="13.81" textLength="21.47" lengthAdjust="spacingAndGlyphs">500</text>
<line x1="331.60" y1="332.15" x2="336.40" y2="332.15" stroke="#000" stroke-width="2.0" stroke-linecap="butt"/>
<mask id="m19" maskUnits="userSpaceOnUse" x="0" y="0" width="520" height="751"><rect x="0" y="0" width="520" height="751" fill="#fff"/><rect x="294.09" y="336.23" width="2.82" height="4.02" fill="#000"/><rect x="298.87" y="336.23" width="2.78" height="4.02" fill="#000"/></mask>
<text x="293.83" y="337.75" font-size="14.32" textLength="29.92" lengthAdjust="spacingAndGlyphs" mask="url(#m19)">1000</text>
<line x1="331.60" y1="290.73" x2="336.40" y2="290.73" stroke="#000" stroke-width="2.0" stroke-linecap="butt"/>
<mask id="m20" maskUnits="userSpaceOnUse" x="0" y="0" width="520" height="751"><rect x="0" y="0" width="520" height="751" fill="#fff"/><rect x="294.16" y="294.21" width="2.76" height="3.89" fill="#000"/><rect x="298.82" y="294.21" width="2.71" height="3.89" fill="#000"/></mask>
<text x="293.90" y="295.60" font-size="13.08" textLength="29.24" lengthAdjust="spacingAndGlyphs" mask="url(#m20)">1500</text>
<line x1="331.60" y1="249.30" x2="336.40" y2="249.30" stroke="#000" stroke-width="2.0" stroke-linecap="butt"/>
<text x="294.35" y="253.80" font-size="13.08" textLength="28.78" lengthAdjust="spacingAndGlyphs">2000</text>
<line x1="334.00" y1="406.71" x2="336.40" y2="406.71" stroke="#000" stroke-width="1.5" stroke-linecap="butt"/>
<line x1="334.00" y1="398.43" x2="336.40" y2="398.43" stroke="#000" stroke-width="1.5" stroke-linecap="butt"/>
<line x1="334.00" y1="390.14" x2="336.40" y2="390.14" stroke="#000" stroke-width="1.5" stroke-linecap="butt"/>
<line x1="334.00" y1="381.86" x2="336.40" y2="381.86" stroke="#000" stroke-width="1.5" stroke-linecap="butt"/>
<line x1="334.00" y1="365.29" x2="336.40" y2="365.29" stroke="#000" stroke-width="1.5" stroke-linecap="butt"/>
<line x1="334.00" y1="357.00" x2="336.40" y2="357.00" stroke="#000" stroke-width="1.5" stroke-linecap="butt"/>
<line x1="334.00" y1="348.72" x2="336.40" y2="348.72" stroke="#000" stroke-width="1.5" stroke-linecap="butt"/>
<line x1="334.00" y1="340.44" x2="336.40" y2="340.44" stroke="#000" stroke-width="1.5" stroke-linecap="butt"/>
<line x1="334.00" y1="323.87" x2="336.40" y2="323.87" stroke="#000" stroke-width="1.5" stroke-linecap="butt"/>
<line x1="334.00" y1="315.58" x2="336.40" y2="315.58" stroke="#000" stroke-width="1.5" stroke-linecap="butt"/>
<line x1="334.00" y1="307.30" x2="336.40" y2="307.30" stroke="#000" stroke-width="1.5" stroke-linecap="butt"/>
<line x1="334.00" y1="299.01" x2="336.40" y2="299.01" stroke="#000" stroke-width="1.5" stroke-linecap="butt"/>
<line x1="334.00" y1="282.44" x2="336.40" y2="282.44" stroke="#000" stroke-width="1.5" stroke-linecap="butt"/>
<line x1="334.00" y1="274.15" x2="336.40" y2="274.15" stroke="#000" stroke-width="1.5" stroke-linecap="butt"/>
<line x1="334.00" y1="265.87" x2="336.40" y2="265.87" stroke="#000" stroke-width="1.5" stroke-linecap="butt"/>
<line x1="334.00" y1="257.59" x2="336.40" y2="257.59" stroke="#000" stroke-width="1.5" stroke-linecap="butt"/>
<line x1="355.50" y1="414.80" x2="355.50" y2="419.60" stroke="#000" stroke-width="1.9" stroke-linecap="butt"/>
<line x1="373.00" y1="414.80" x2="373.00" y2="419.60" stroke="#000" stroke-width="1.9" stroke-linecap="butt"/>
<line x1="414.50" y1="414.80" x2="414.50" y2="419.60" stroke="#000" stroke-width="1.9" stroke-linecap="butt"/>
<line x1="455.00" y1="414.80" x2="455.00" y2="419.60" stroke="#000" stroke-width="1.9" stroke-linecap="butt"/>
<line x1="492.50" y1="414.80" x2="492.50" y2="419.60" stroke="#000" stroke-width="1.9" stroke-linecap="butt"/>
<line x1="340.00" y1="414.80" x2="340.00" y2="418.40" stroke="#000" stroke-width="1.6" stroke-linecap="butt"/>
<line x1="347.00" y1="414.80" x2="347.00" y2="418.40" stroke="#000" stroke-width="1.6" stroke-linecap="butt"/>
<line x1="365.00" y1="414.80" x2="365.00" y2="418.40" stroke="#000" stroke-width="1.6" stroke-linecap="butt"/>
<line x1="382.55" y1="414.80" x2="382.55" y2="418.40" stroke="#000" stroke-width="1.6" stroke-linecap="butt"/>
<line x1="388.77" y1="414.80" x2="388.77" y2="418.40" stroke="#000" stroke-width="1.6" stroke-linecap="butt"/>
<line x1="393.33" y1="414.80" x2="393.33" y2="418.40" stroke="#000" stroke-width="1.6" stroke-linecap="butt"/>
<line x1="397.07" y1="414.80" x2="397.07" y2="418.40" stroke="#000" stroke-width="1.6" stroke-linecap="butt"/>
<line x1="400.27" y1="414.80" x2="400.27" y2="418.40" stroke="#000" stroke-width="1.6" stroke-linecap="butt"/>
<line x1="403.38" y1="414.80" x2="403.38" y2="418.40" stroke="#000" stroke-width="1.6" stroke-linecap="butt"/>
<line x1="406.20" y1="414.80" x2="406.20" y2="418.40" stroke="#000" stroke-width="1.6" stroke-linecap="butt"/>
<line x1="408.69" y1="414.80" x2="408.69" y2="418.40" stroke="#000" stroke-width="1.6" stroke-linecap="butt"/>
<line x1="423.81" y1="414.80" x2="423.81" y2="418.40" stroke="#000" stroke-width="1.6" stroke-linecap="butt"/>
<line x1="429.89" y1="414.80" x2="429.89" y2="418.40" stroke="#000" stroke-width="1.6" stroke-linecap="butt"/>
<line x1="434.35" y1="414.80" x2="434.35" y2="418.40" stroke="#000" stroke-width="1.6" stroke-linecap="butt"/>
<line x1="437.99" y1="414.80" x2="437.99" y2="418.40" stroke="#000" stroke-width="1.6" stroke-linecap="butt"/>
<line x1="441.11" y1="414.80" x2="441.11" y2="418.40" stroke="#000" stroke-width="1.6" stroke-linecap="butt"/>
<line x1="444.15" y1="414.80" x2="444.15" y2="418.40" stroke="#000" stroke-width="1.6" stroke-linecap="butt"/>
<line x1="446.90" y1="414.80" x2="446.90" y2="418.40" stroke="#000" stroke-width="1.6" stroke-linecap="butt"/>
<line x1="449.33" y1="414.80" x2="449.33" y2="418.40" stroke="#000" stroke-width="1.6" stroke-linecap="butt"/>
<line x1="463.62" y1="414.80" x2="463.62" y2="418.40" stroke="#000" stroke-width="1.6" stroke-linecap="butt"/>
<line x1="469.25" y1="414.80" x2="469.25" y2="418.40" stroke="#000" stroke-width="1.6" stroke-linecap="butt"/>
<line x1="473.38" y1="414.80" x2="473.38" y2="418.40" stroke="#000" stroke-width="1.6" stroke-linecap="butt"/>
<line x1="476.75" y1="414.80" x2="476.75" y2="418.40" stroke="#000" stroke-width="1.6" stroke-linecap="butt"/>
<line x1="479.64" y1="414.80" x2="479.64" y2="418.40" stroke="#000" stroke-width="1.6" stroke-linecap="butt"/>
<line x1="482.45" y1="414.80" x2="482.45" y2="418.40" stroke="#000" stroke-width="1.6" stroke-linecap="butt"/>
<line x1="485.00" y1="414.80" x2="485.00" y2="418.40" stroke="#000" stroke-width="1.6" stroke-linecap="butt"/>
<line x1="487.25" y1="414.80" x2="487.25" y2="418.40" stroke="#000" stroke-width="1.6" stroke-linecap="butt"/>
<text x="353.56" y="433.60" font-size="9.88" textLength="4.79" lengthAdjust="spacingAndGlyphs">0</text>
<mask id="m21" maskUnits="userSpaceOnUse" x="0" y="0" width="520" height="751"><rect x="0" y="0" width="520" height="751" fill="#fff"/><rect x="367.07" y="432.55" width="1.84" height="3.55" fill="#000"/><rect x="370.19" y="432.55" width="1.81" height="3.55" fill="#000"/></mask>
<text x="366.90" y="433.60" font-size="9.88" textLength="9.76" lengthAdjust="spacingAndGlyphs" mask="url(#m21)">10</text>
<text x="376.21" y="431.60" font-size="9.59" textLength="4.62" lengthAdjust="spacingAndGlyphs">2</text>
<mask id="m22" maskUnits="userSpaceOnUse" x="0" y="0" width="520" height="751"><rect x="0" y="0" width="520" height="751" fill="#fff"/><rect x="407.52" y="432.55" width="1.84" height="3.55" fill="#000"/><rect x="410.64" y="432.55" width="1.81" height="3.55" fill="#000"/></mask>
<text x="407.35" y="433.60" font-size="9.88" textLength="9.76" lengthAdjust="spacingAndGlyphs" mask="url(#m22)">10</text>
<text x="416.77" y="431.60" font-size="9.59" textLength="4.48" lengthAdjust="spacingAndGlyphs">3</text>
<mask id="m23" maskUnits="userSpaceOnUse" x="0" y="0" width="520" height="751"><rect x="0" y="0" width="520" height="751" fill="#fff"/><rect x="448.12" y="432.55" width="1.84" height="3.55" fill="#000"/><rect x="451.24" y="432.55" width="1.81" height="3.55" fill="#000"/></mask>
<text x="447.95" y="433.60" font-size="9.88" textLength="9.76" lengthAdjust="spacingAndGlyphs" mask="url(#m23)">10</text>
<text x="457.44" y="431.60" font-size="9.59" textLength="4.15" lengthAdjust="spacingAndGlyphs">4</text>
<mask id="m24" maskUnits="userSpaceOnUse" x="0" y="0" width="520" height="751"><rect x="0" y="0" width="520" height="751" fill="#fff"/><rect x="486.17" y="432.55" width="1.84" height="3.55" fill="#000"/><rect x="489.29" y="432.55" width="1.81" height="3.55" fill="#000"/></mask>
<text x="486.00" y="433.60" font-size="9.88" textLength="9.76" lengthAdjust="spacingAndGlyphs" mask="url(#m24)">10</text>
<text x="495.35" y="431.60" font-size="9.59" textLength="4.47" lengthAdjust="spacingAndGlyphs">5</text>
<rect x="336.80" y="415.80" width="18.20" height="3.20" fill="#000"/>
<rect x="355.80" y="415.80" width="1.70" height="3.50" fill="#000"/>
<rect x="360.00" y="415.80" width="2.00" height="2.60" fill="#000"/>
<rect x="363.50" y="415.80" width="11.70" height="3.00" fill="#000"/>
<path d="M337.00,414.70 C351.33,414.70 372.53,415.65 380.00,414.70 C382.69,414.36 383.75,413.82 385.40,413.30 C386.85,412.84 388.32,412.58 389.40,411.80 C390.43,411.06 391.21,410.31 391.80,408.80 C392.95,405.83 392.50,399.93 392.80,394.00 C393.25,385.07 393.61,372.12 393.90,360.40 C394.22,347.55 394.36,332.98 394.60,320.00 C394.83,307.91 395.08,296.28 395.30,285.00 C395.51,274.43 395.70,254.30 395.90,254.30 C396.10,254.30 396.31,274.43 396.50,285.00 C396.71,296.28 396.91,307.91 397.10,320.00 C397.31,332.98 397.36,348.30 397.70,360.40 C397.98,370.28 398.18,379.87 398.80,387.30 C399.24,392.58 399.45,397.89 400.50,400.80 C401.06,402.36 401.96,404.18 402.60,404.10 C403.49,403.98 404.29,399.81 404.90,396.70 C405.88,391.66 405.93,382.62 406.60,376.50 C407.16,371.37 407.93,362.40 408.50,362.40 C409.02,362.40 409.50,369.39 409.90,373.80 C410.45,379.85 410.32,390.46 411.20,395.40 C411.67,398.06 412.36,401.36 413.00,401.40 C413.54,401.43 413.92,398.14 414.70,397.40 C415.23,396.89 416.10,397.17 416.60,396.70 C417.20,396.14 417.46,395.36 417.80,394.00 C418.70,390.43 418.64,380.21 419.30,373.80 C419.90,367.93 420.82,357.00 421.50,357.00 C422.07,357.00 422.61,363.81 423.10,368.50 C423.87,375.82 424.03,390.37 425.10,396.70 C425.66,400.00 426.51,404.15 427.10,404.10 C428.14,404.02 428.86,388.39 429.50,380.60 C430.13,372.92 430.11,363.04 430.90,357.70 C431.34,354.78 432.06,350.97 432.50,351.00 C433.12,351.04 433.42,359.00 433.80,364.40 C434.38,372.59 434.18,387.35 435.20,395.40 C435.86,400.63 436.43,407.66 437.90,408.20 C438.65,408.48 439.79,406.82 440.60,406.10 C441.34,405.45 442.04,403.97 442.60,404.10 C443.35,404.27 443.62,407.31 444.30,408.80 C444.96,410.24 445.57,411.94 446.60,412.90 C447.52,413.76 448.72,414.19 450.00,414.50 C451.47,414.86 453.33,414.63 455.00,414.70" fill="none" stroke="#000" stroke-width="2.9" stroke-linejoin="round" stroke-linecap="round"/>
<text x="387.49" y="250.10" font-size="14.97" textLength="18.80" lengthAdjust="spacingAndGlyphs">2N</text>
<text x="399.88" y="353.80" font-size="14.83" textLength="18.81" lengthAdjust="spacingAndGlyphs">4N</text>
<text x="413.74" y="342.10" font-size="14.83" textLength="18.65" lengthAdjust="spacingAndGlyphs">8N</text>
<mask id="m25" maskUnits="userSpaceOnUse" x="0" y="0" width="520" height="751"><rect x="0" y="0" width="520" height="751" fill="#fff"/><rect x="422.90" y="329.26" width="3.03" height="4.09" fill="#000"/><rect x="428.02" y="329.26" width="2.98" height="4.09" fill="#000"/></mask>
<text x="422.61" y="330.85" font-size="14.90" textLength="26.46" lengthAdjust="spacingAndGlyphs" mask="url(#m25)">16N</text>
<text x="438.97" y="393.40" font-size="15.12" textLength="26.08" lengthAdjust="spacingAndGlyphs">32N</text>
<text x="442.66" y="299.50" font-size="23.40" textLength="63.53" lengthAdjust="spacingAndGlyphs">46.2%</text>
<line x1="412.70" y1="304.20" x2="508.00" y2="304.20" stroke="#000" stroke-width="2.2" stroke-linecap="butt"/>
<line x1="412.70" y1="300.00" x2="412.70" y2="309.70" stroke="#000" stroke-width="2.4" stroke-linecap="butt"/>
<line x1="508.00" y1="300.00" x2="508.00" y2="309.70" stroke="#000" stroke-width="2.4" stroke-linecap="butt"/>
<text x="0.75" y="21.70" font-size="26.16" textLength="18.73" lengthAdjust="spacingAndGlyphs">A</text>
<text x="142.38" y="18.50" font-size="21.33" textLength="100.04" lengthAdjust="spacingAndGlyphs">Wild Type</text>
<mask id="m26" maskUnits="userSpaceOnUse" x="0" y="0" width="520" height="751"><rect x="0" y="0" width="520" height="751" fill="#fff"/><rect x="452.11" y="16.97" width="4.53" height="4.73" fill="#000"/><rect x="459.77" y="16.97" width="4.46" height="4.73" fill="#000"/></mask>
<text x="365.31" y="19.20" font-size="20.91" textLength="124.75" lengthAdjust="spacingAndGlyphs" mask="url(#m26)">Cyclin D1 -/-</text>
<text x="2.06" y="142.90" font-size="21.95" textLength="33.37" lengthAdjust="spacingAndGlyphs">BM</text>
<text x="5.67" y="323.90" font-size="21.95" textLength="26.19" lengthAdjust="spacingAndGlyphs">FL</text>
<text x="112.87" y="462.80" font-size="17.15" textLength="40.47" lengthAdjust="spacingAndGlyphs">DAPI</text>
<line x1="54.40" y1="58.00" x2="54.40" y2="315.50" stroke="#000" stroke-width="2.5" stroke-linecap="butt"/>
<path d="M54.4,35.8 L48.8,58.6 L60.1,58.6 Z" fill="#000"/>
<text transform="translate(55.00,425.44) rotate(-90)" x="0" y="0" font-size="17.42" textLength="99.70" lengthAdjust="spacingAndGlyphs">Cell Number</text>
<line x1="170.20" y1="456.80" x2="482.00" y2="456.80" stroke="#000" stroke-width="2.6" stroke-linecap="butt"/>
<path d="M503.1,456.8 L480.8,451 L480.8,462.5 Z" fill="#000"/>
<text x="1.24" y="517.80" font-size="26.31" textLength="17.88" lengthAdjust="spacingAndGlyphs">B</text>
<line x1="104.10" y1="510.10" x2="104.10" y2="725.30" stroke="#000" stroke-width="2.8" stroke-linecap="butt"/>
<line x1="103.00" y1="722.20" x2="419.30" y2="722.20" stroke="#000" stroke-width="2.8" stroke-linecap="butt"/>
<line x1="100.70" y1="722.20" x2="104.10" y2="722.20" stroke="#000" stroke-width="2.0" stroke-linecap="butt"/>
<text x="80.79" y="727.00" font-size="16.57" textLength="9.94" lengthAdjust="spacingAndGlyphs">0</text>
<line x1="100.70" y1="695.83" x2="104.10" y2="695.83" stroke="#000" stroke-width="2.0" stroke-linecap="butt"/>
<text x="75.22" y="700.80" font-size="17.01" textLength="24.07" lengthAdjust="spacingAndGlyphs">0.5</text>
<line x1="100.70" y1="669.45" x2="104.10" y2="669.45" stroke="#000" stroke-width="2.0" stroke-linecap="butt"/>
<mask id="m27" maskUnits="userSpaceOnUse" x="0" y="0" width="520" height="751"><rect x="0" y="0" width="520" height="751" fill="#fff"/><rect x="80.87" y="672.89" width="4.45" height="4.31" fill="#000"/><rect x="88.38" y="672.89" width="4.37" height="4.31" fill="#000"/></mask>
<text x="80.45" y="674.70" font-size="17.01" textLength="11.78" lengthAdjust="spacingAndGlyphs" mask="url(#m27)">1</text>
<line x1="100.70" y1="643.08" x2="104.10" y2="643.08" stroke="#000" stroke-width="2.0" stroke-linecap="butt"/>
<mask id="m28" maskUnits="userSpaceOnUse" x="0" y="0" width="520" height="751"><rect x="0" y="0" width="520" height="751" fill="#fff"/><rect x="75.35" y="646.37" width="3.67" height="4.33" fill="#000"/><rect x="81.55" y="646.37" width="3.61" height="4.33" fill="#000"/></mask>
<text x="75.01" y="648.20" font-size="17.15" textLength="24.28" lengthAdjust="spacingAndGlyphs" mask="url(#m28)">1.5</text>
<line x1="100.70" y1="616.70" x2="104.10" y2="616.70" stroke="#000" stroke-width="2.0" stroke-linecap="butt"/>
<text x="80.89" y="621.60" font-size="16.57" textLength="9.82" lengthAdjust="spacingAndGlyphs">2</text>
<line x1="100.70" y1="590.33" x2="104.10" y2="590.33" stroke="#000" stroke-width="2.0" stroke-linecap="butt"/>
<text x="75.30" y="595.40" font-size="17.01" textLength="23.98" lengthAdjust="spacingAndGlyphs">2.5</text>
<line x1="100.70" y1="563.95" x2="104.10" y2="563.95" stroke="#000" stroke-width="2.0" stroke-linecap="butt"/>
<text x="81.11" y="568.70" font-size="17.01" textLength="9.51" lengthAdjust="spacingAndGlyphs">3</text>
<line x1="100.70" y1="537.58" x2="104.10" y2="537.58" stroke="#000" stroke-width="2.0" stroke-linecap="butt"/>
<text x="75.51" y="542.60" font-size="17.01" textLength="23.77" lengthAdjust="spacingAndGlyphs">3.5</text>
<line x1="100.70" y1="511.20" x2="104.10" y2="511.20" stroke="#000" stroke-width="2.0" stroke-linecap="butt"/>
<text x="80.96" y="516.00" font-size="17.01" textLength="8.83" lengthAdjust="spacingAndGlyphs">4</text>
<line x1="208.80" y1="722.20" x2="208.80" y2="725.60" stroke="#000" stroke-width="2.0" stroke-linecap="butt"/>
<line x1="313.60" y1="722.20" x2="313.60" y2="725.60" stroke="#000" stroke-width="2.0" stroke-linecap="butt"/>
<line x1="419.00" y1="722.20" x2="419.00" y2="725.60" stroke="#000" stroke-width="2.0" stroke-linecap="butt"/>
<line x1="141.90" y1="657.00" x2="141.90" y2="669.45" stroke="#000" stroke-width="2.0" stroke-linecap="butt"/>
<line x1="138.65" y1="657.00" x2="145.15" y2="657.00" stroke="#000" stroke-width="2.0" stroke-linecap="butt"/>
<rect x="125.50" y="668.75" width="32.90" height="53.45" fill="#000"/>
<line x1="246.70" y1="657.32" x2="246.70" y2="669.45" stroke="#000" stroke-width="2.0" stroke-linecap="butt"/>
<line x1="243.45" y1="657.32" x2="249.95" y2="657.32" stroke="#000" stroke-width="2.0" stroke-linecap="butt"/>
<rect x="230.00" y="668.75" width="33.10" height="53.45" fill="#000"/>
<rect x="262.20" y="705.91" width="29.00" height="16.29" fill="#c7c7c7" stroke="#000" stroke-width="2.8"/>
<rect x="273.8" y="703.4" width="6.4" height="4.4" rx="1.2" fill="#000"/>
<line x1="351.30" y1="657.32" x2="351.30" y2="669.45" stroke="#000" stroke-width="2.0" stroke-linecap="butt"/>
<line x1="348.05" y1="657.32" x2="354.55" y2="657.32" stroke="#000" stroke-width="2.0" stroke-linecap="butt"/>
<rect x="335.00" y="668.75" width="32.70" height="53.45" fill="#000"/>
<rect x="366.40" y="546.19" width="29.80" height="176.01" fill="#c7c7c7" stroke="#000" stroke-width="2.8"/>
<line x1="381.30" y1="536.10" x2="381.30" y2="556.72" stroke="#000" stroke-width="2.0" stroke-linecap="butt"/>
<line x1="378.30" y1="536.10" x2="384.30" y2="536.10" stroke="#000" stroke-width="2.0" stroke-linecap="butt"/>
<line x1="378.30" y1="556.72" x2="384.30" y2="556.72" stroke="#000" stroke-width="2.0" stroke-linecap="butt"/>
<text x="161.23" y="670.09" font-size="26.88" textLength="9.70" lengthAdjust="spacingAndGlyphs">*</text>
<text x="265.13" y="669.73" font-size="24.46" textLength="9.70" lengthAdjust="spacingAndGlyphs">*</text>
<text x="358.13" y="548.32" font-size="26.34" textLength="9.90" lengthAdjust="spacingAndGlyphs">*</text>
<rect x="153.30" y="516.00" width="36.10" height="35.50" fill="#000"/>
<rect x="154.70" y="554.20" width="33.30" height="33.10" fill="#c7c7c7" stroke="#000" stroke-width="2.8"/>
<text x="193.98" y="543.10" font-size="21.33" textLength="99.24" lengthAdjust="spacingAndGlyphs">Wild Type</text>
<mask id="m29" maskUnits="userSpaceOnUse" x="0" y="0" width="520" height="751"><rect x="0" y="0" width="520" height="751" fill="#fff"/><rect x="254.71" y="575.21" width="4.57" height="4.79" fill="#000"/><rect x="262.44" y="575.21" width="4.49" height="4.79" fill="#000"/></mask>
<text x="192.61" y="577.50" font-size="21.51" textLength="100.36" lengthAdjust="spacingAndGlyphs" mask="url(#m29)">Cyc D1 -/-</text>
<mask id="m30" maskUnits="userSpaceOnUse" x="0" y="0" width="520" height="751"><rect x="0" y="0" width="520" height="751" fill="#fff"/><rect x="175.41" y="741.64" width="3.64" height="4.36" fill="#000"/><rect x="181.57" y="741.64" width="3.59" height="4.36" fill="#000"/></mask>
<text x="130.69" y="743.50" font-size="17.44" textLength="54.03" lengthAdjust="spacingAndGlyphs" mask="url(#m30)">CycD1</text>
<text x="237.40" y="743.60" font-size="17.30" textLength="53.18" lengthAdjust="spacingAndGlyphs">CycD2</text>
<text x="340.70" y="743.80" font-size="17.44" textLength="52.91" lengthAdjust="spacingAndGlyphs">CycD3</text>
<text transform="translate(59.40,678.54) rotate(-90)" x="0" y="0" font-size="21.76" textLength="130.38" lengthAdjust="spacingAndGlyphs">Fold Change</text>
</g>
</svg>
</body></html>
